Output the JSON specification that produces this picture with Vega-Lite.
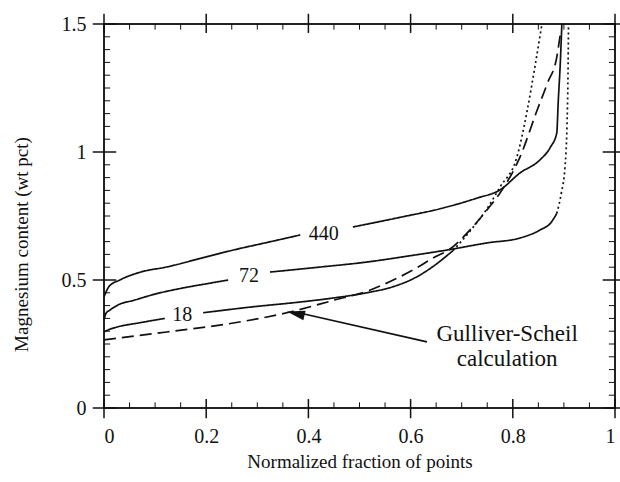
{
  "$schema": "https://vega.github.io/schema/vega-lite/v6.json",
  "width": 511,
  "height": 384,
  "autosize": {"type": "none"},
  "padding": {"left": 104, "top": 24, "right": 5, "bottom": 74},
  "background": "white",
  "config": {
    "view": {"stroke": "#222", "strokeWidth": 2},
    "font": "Liberation Serif",
    "axis": {"grid": false, "domain": false, "labelColor": "#111", "titleColor": "#111", "labelFont": "Liberation Serif", "titleFont": "Liberation Serif", "labelFontSize": 20, "titleFontSize": 19, "titleFontWeight": "normal"}
  },
  "datasets": {
    "lines": [
      {"seg": "440a", "style": "solid", "x": 0, "y": 0.434},
      {"seg": "440a", "style": "solid", "x": 0.01, "y": 0.475},
      {"seg": "440a", "style": "solid", "x": 0.031, "y": 0.5},
      {"seg": "440a", "style": "solid", "x": 0.07, "y": 0.53},
      {"seg": "440a", "style": "solid", "x": 0.123, "y": 0.551},
      {"seg": "440a", "style": "solid", "x": 0.19, "y": 0.585},
      {"seg": "440a", "style": "solid", "x": 0.253, "y": 0.617},
      {"seg": "440a", "style": "solid", "x": 0.32, "y": 0.647},
      {"seg": "440a", "style": "solid", "x": 0.384, "y": 0.676},
      {"seg": "440b", "style": "solid", "x": 0.487, "y": 0.707},
      {"seg": "440b", "style": "solid", "x": 0.58, "y": 0.745},
      {"seg": "440b", "style": "solid", "x": 0.665, "y": 0.782},
      {"seg": "440b", "style": "solid", "x": 0.73, "y": 0.82},
      {"seg": "440b", "style": "solid", "x": 0.775, "y": 0.852},
      {"seg": "440b", "style": "solid", "x": 0.814, "y": 0.918},
      {"seg": "440b", "style": "solid", "x": 0.853, "y": 0.969},
      {"seg": "440b", "style": "solid", "x": 0.874, "y": 1.02},
      {"seg": "440b", "style": "solid", "x": 0.886, "y": 1.074},
      {"seg": "440b", "style": "solid", "x": 0.889, "y": 1.2},
      {"seg": "440b", "style": "solid", "x": 0.893, "y": 1.35},
      {"seg": "440b", "style": "solid", "x": 0.896, "y": 1.5},

      {"seg": "72a", "style": "solid", "x": 0, "y": 0.344},
      {"seg": "72a", "style": "solid", "x": 0.004, "y": 0.37},
      {"seg": "72a", "style": "solid", "x": 0.012, "y": 0.383},
      {"seg": "72a", "style": "solid", "x": 0.03, "y": 0.405},
      {"seg": "72a", "style": "solid", "x": 0.057, "y": 0.42},
      {"seg": "72a", "style": "solid", "x": 0.1, "y": 0.445},
      {"seg": "72a", "style": "solid", "x": 0.155, "y": 0.469},
      {"seg": "72a", "style": "solid", "x": 0.2, "y": 0.485},
      {"seg": "72a", "style": "solid", "x": 0.243, "y": 0.5},
      {"seg": "72b", "style": "solid", "x": 0.325, "y": 0.531},
      {"seg": "72b", "style": "solid", "x": 0.42, "y": 0.55},
      {"seg": "72b", "style": "solid", "x": 0.514, "y": 0.57},
      {"seg": "72b", "style": "solid", "x": 0.6, "y": 0.595},
      {"seg": "72b", "style": "solid", "x": 0.671, "y": 0.617},
      {"seg": "72b", "style": "solid", "x": 0.75, "y": 0.645},
      {"seg": "72b", "style": "solid", "x": 0.814, "y": 0.664},
      {"seg": "72b", "style": "solid", "x": 0.853, "y": 0.695},
      {"seg": "72b", "style": "solid", "x": 0.875, "y": 0.725},
      {"seg": "72b", "style": "solid", "x": 0.886, "y": 0.76},
      {"seg": "72c", "style": "dotted", "x": 0.886, "y": 0.76},
      {"seg": "72c", "style": "dotted", "x": 0.895, "y": 0.84},
      {"seg": "72c", "style": "dotted", "x": 0.902, "y": 0.94},
      {"seg": "72c", "style": "dotted", "x": 0.906, "y": 1.1},
      {"seg": "72c", "style": "dotted", "x": 0.908, "y": 1.3},
      {"seg": "72c", "style": "dotted", "x": 0.909, "y": 1.5},

      {"seg": "18a", "style": "solid", "x": 0, "y": 0.297},
      {"seg": "18a", "style": "solid", "x": 0.008, "y": 0.305},
      {"seg": "18a", "style": "solid", "x": 0.025, "y": 0.316},
      {"seg": "18a", "style": "solid", "x": 0.07, "y": 0.333},
      {"seg": "18a", "style": "solid", "x": 0.119, "y": 0.35},
      {"seg": "18b", "style": "solid", "x": 0.194, "y": 0.372},
      {"seg": "18b", "style": "solid", "x": 0.29, "y": 0.395},
      {"seg": "18b", "style": "solid", "x": 0.384, "y": 0.414},
      {"seg": "18b", "style": "solid", "x": 0.45, "y": 0.43},
      {"seg": "18b", "style": "solid", "x": 0.514, "y": 0.45},
      {"seg": "18b", "style": "solid", "x": 0.566, "y": 0.474},
      {"seg": "18b", "style": "solid", "x": 0.61, "y": 0.51},
      {"seg": "18b", "style": "solid", "x": 0.644, "y": 0.553},
      {"seg": "18b", "style": "solid", "x": 0.683, "y": 0.615},
      {"seg": "18c", "style": "dotted", "x": 0.683, "y": 0.615},
      {"seg": "18c", "style": "dotted", "x": 0.72, "y": 0.7},
      {"seg": "18c", "style": "dotted", "x": 0.75, "y": 0.78},
      {"seg": "18c", "style": "dotted", "x": 0.775, "y": 0.863},
      {"seg": "18c", "style": "dotted", "x": 0.808, "y": 0.98},
      {"seg": "18c", "style": "dotted", "x": 0.828, "y": 1.16},
      {"seg": "18c", "style": "dotted", "x": 0.843, "y": 1.33},
      {"seg": "18c", "style": "dotted", "x": 0.857, "y": 1.5},

      {"seg": "gs", "style": "dashed", "x": 0, "y": 0.266},
      {"seg": "gs", "style": "dashed", "x": 0.123, "y": 0.297},
      {"seg": "gs", "style": "dashed", "x": 0.253, "y": 0.332},
      {"seg": "gs", "style": "dashed", "x": 0.364, "y": 0.375},
      {"seg": "gs", "style": "dashed", "x": 0.448, "y": 0.42},
      {"seg": "gs", "style": "dashed", "x": 0.52, "y": 0.46},
      {"seg": "gs", "style": "dashed", "x": 0.566, "y": 0.5},
      {"seg": "gs", "style": "dashed", "x": 0.61, "y": 0.545},
      {"seg": "gs", "style": "dashed", "x": 0.644, "y": 0.586},
      {"seg": "gs", "style": "dashed", "x": 0.68, "y": 0.625},
      {"seg": "gs", "style": "dashed", "x": 0.716, "y": 0.695},
      {"seg": "gs", "style": "dashed", "x": 0.75, "y": 0.775},
      {"seg": "gs", "style": "dashed", "x": 0.775, "y": 0.84},
      {"seg": "gs", "style": "dashed", "x": 0.814, "y": 0.98},
      {"seg": "gs", "style": "dashed", "x": 0.847, "y": 1.16},
      {"seg": "gs", "style": "dashed", "x": 0.868, "y": 1.27},
      {"seg": "gs", "style": "dashed", "x": 0.886, "y": 1.37},
      {"seg": "gs", "style": "dashed", "x": 0.893, "y": 1.46}
    ],
    "labels": [
      {"x": 0.43, "y": 0.68, "text": "440", "size": 20},
      {"x": 0.284, "y": 0.516, "text": "72", "size": 20},
      {"x": 0.153, "y": 0.363, "text": "18", "size": 20},
      {"x": 0.789, "y": 0.29, "text": "Gulliver-Scheil", "size": 23},
      {"x": 0.789, "y": 0.19, "text": "calculation", "size": 23}
    ],
    "arrow": [
      {"x": 0.632, "y": 0.258, "x2": 0.385, "y2": 0.37}
    ],
    "head": [
      {"x": 0.358, "y": 0.377}
    ],
    "xmajor": [{"v": 0}, {"v": 0.2}, {"v": 0.4}, {"v": 0.6}, {"v": 0.8}, {"v": 1}],
    "xminor": [{"v": 0.05}, {"v": 0.1}, {"v": 0.15}, {"v": 0.25}, {"v": 0.3}, {"v": 0.35}, {"v": 0.45}, {"v": 0.5}, {"v": 0.55}, {"v": 0.65}, {"v": 0.7}, {"v": 0.75}, {"v": 0.85}, {"v": 0.9}, {"v": 0.95}],
    "ymajor": [{"v": 0}, {"v": 0.5}, {"v": 1}, {"v": 1.5}],
    "yminor": [{"v": 0.05}, {"v": 0.1}, {"v": 0.15}, {"v": 0.2}, {"v": 0.25}, {"v": 0.3}, {"v": 0.35}, {"v": 0.4}, {"v": 0.45}, {"v": 0.55}, {"v": 0.6}, {"v": 0.65}, {"v": 0.7}, {"v": 0.75}, {"v": 0.8}, {"v": 0.85}, {"v": 0.9}, {"v": 0.95}, {"v": 1.05}, {"v": 1.1}, {"v": 1.15}, {"v": 1.2}, {"v": 1.25}, {"v": 1.3}, {"v": 1.35}, {"v": 1.4}, {"v": 1.45}]
  },
  "layer": [
    {
      "data": {"name": "lines"},
      "mark": {"type": "line", "color": "#111", "strokeWidth": 1.7, "interpolate": "monotone"},
      "encoding": {
        "x": {"field": "x", "type": "quantitative", "scale": {"domain": [0, 1], "nice": false, "zero": false},
              "axis": {"orient": "bottom", "values": [0, 0.2, 0.4, 0.6, 0.8, 1], "format": "~g", "ticks": false, "labelFontSize": 20, "labelPadding": 18, "title": "Normalized fraction of points", "titlePadding": 6}},
        "y": {"field": "y", "type": "quantitative", "scale": {"domain": [0, 1.5], "nice": false, "zero": false},
              "axis": {"orient": "left", "values": [0, 0.5, 1, 1.5], "format": "~g", "ticks": false, "labelFontSize": 20, "labelPadding": 18, "title": "Magnesium content (wt pct)", "titlePadding": 30, "titleY": 220}},
        "detail": {"field": "seg"},
        "strokeDash": {"field": "style", "type": "nominal", "scale": {"domain": ["solid", "dashed", "dotted"], "range": [[1, 0], [12, 6], [2, 3]]}, "legend": null}
      }
    },
    {
      "data": {"name": "xmajor"},
      "mark": {"type": "rule", "color": "#111", "strokeWidth": 1.5},
      "encoding": {"x": {"field": "v", "type": "quantitative"}, "y": {"datum": -0.04, "type": "quantitative"}, "y2": {"datum": 0.035}}
    },
    {
      "data": {"name": "xmajor"},
      "mark": {"type": "rule", "color": "#111", "strokeWidth": 1.5},
      "encoding": {"x": {"field": "v", "type": "quantitative"}, "y": {"datum": 1.465, "type": "quantitative"}, "y2": {"datum": 1.54}}
    },
    {
      "data": {"name": "xminor"},
      "mark": {"type": "rule", "color": "#111", "strokeWidth": 1},
      "encoding": {"x": {"field": "v", "type": "quantitative"}, "y": {"datum": 0, "type": "quantitative"}, "y2": {"datum": 0.022}}
    },
    {
      "data": {"name": "xminor"},
      "mark": {"type": "rule", "color": "#111", "strokeWidth": 1},
      "encoding": {"x": {"field": "v", "type": "quantitative"}, "y": {"datum": 1.478, "type": "quantitative"}, "y2": {"datum": 1.5}}
    },
    {
      "data": {"name": "ymajor"},
      "mark": {"type": "rule", "color": "#111", "strokeWidth": 1.5},
      "encoding": {"y": {"field": "v", "type": "quantitative"}, "x": {"datum": -0.022, "type": "quantitative"}, "x2": {"datum": 0.024}}
    },
    {
      "data": {"name": "ymajor"},
      "mark": {"type": "rule", "color": "#111", "strokeWidth": 1.5},
      "encoding": {"y": {"field": "v", "type": "quantitative"}, "x": {"datum": 0.976, "type": "quantitative"}, "x2": {"datum": 1.01}}
    },
    {
      "data": {"name": "yminor"},
      "mark": {"type": "rule", "color": "#111", "strokeWidth": 1},
      "encoding": {"y": {"field": "v", "type": "quantitative"}, "x": {"datum": 0, "type": "quantitative"}, "x2": {"datum": 0.012}}
    },
    {
      "data": {"name": "yminor"},
      "mark": {"type": "rule", "color": "#111", "strokeWidth": 1},
      "encoding": {"y": {"field": "v", "type": "quantitative"}, "x": {"datum": 0.988, "type": "quantitative"}, "x2": {"datum": 1}}
    },
    {
      "data": {"name": "labels"},
      "mark": {"type": "text", "font": "Liberation Serif", "color": "#111", "align": "center", "baseline": "middle"},
      "encoding": {
        "x": {"field": "x", "type": "quantitative"},
        "y": {"field": "y", "type": "quantitative"},
        "text": {"field": "text", "type": "nominal"},
        "size": {"field": "size", "type": "quantitative", "scale": null, "legend": null}
      }
    },
    {
      "data": {"name": "arrow"},
      "mark": {"type": "rule", "color": "#111", "strokeWidth": 1.7},
      "encoding": {
        "x": {"field": "x", "type": "quantitative"},
        "y": {"field": "y", "type": "quantitative"},
        "x2": {"field": "x2"},
        "y2": {"field": "y2"}
      }
    },
    {
      "data": {"name": "head"},
      "mark": {"type": "point", "shape": "M0,0L0.55,2L-0.55,2Z", "size": 324, "filled": true, "color": "#111", "opacity": 1, "angle": 283},
      "encoding": {
        "x": {"field": "x", "type": "quantitative"},
        "y": {"field": "y", "type": "quantitative"}
      }
    }
  ]
}
